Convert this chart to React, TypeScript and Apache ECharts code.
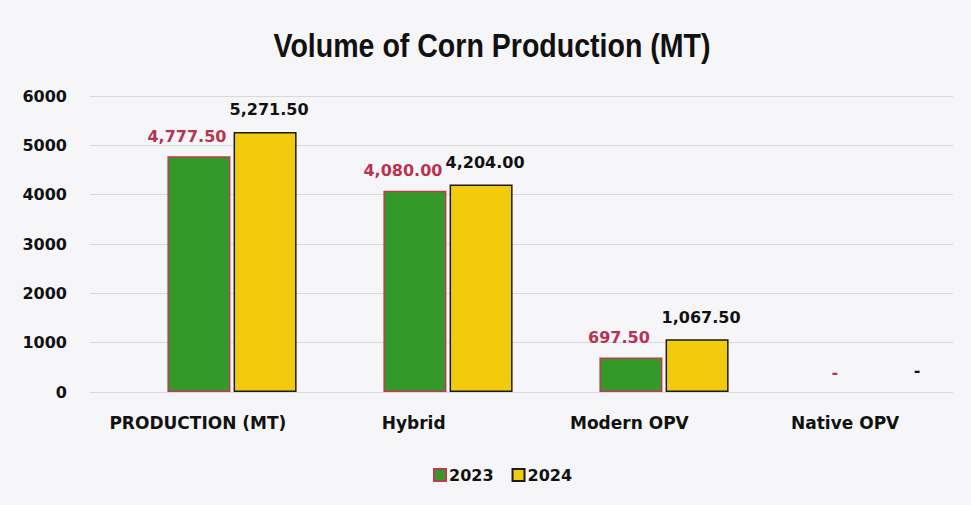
import React, { useEffect, useRef } from "react";
import * as echarts from "echarts";

const categories = ["PRODUCTION (MT)", "Hybrid", "Modern OPV", "Native OPV"];
const values2023 = [4777.5, 4080.0, 697.5, 0];
const values2024 = [5271.5, 4204.0, 1067.5, 0];
const yTicks = { min: 0, max: 6000, interval: 1000 };
const seriesNames = ["2023", "2024"];
const titleText = "Volume of Corn Production (MT)";

const numFont = "'DejaVu Sans', sans-serif";

function fmt(v: number): string {
  if (v === 0) return "-";
  return v.toLocaleString("en-US", { minimumFractionDigits: 2, maximumFractionDigits: 2 });
}

function toData(values: number[]) {
  return values.map((v) => (v === 0 ? { value: v, itemStyle: { borderWidth: 0 } } : v));
}

export default function App() {
  const ref = useRef<HTMLDivElement>(null);
  useEffect(() => {
    document.body.style.margin = "0";
    if (!ref.current) return;
    const chart = echarts.init(ref.current, null, { renderer: "svg" });
    chart.setOption({
      animation: false,
      backgroundColor: "#f6f6f8",
      graphic: [
        {
          type: "text",
          x: 492,
          y: 46,
          scaleX: 0.84,
          style: {
            text: titleText,
            font: "bold 34px 'Liberation Sans', Arial, sans-serif",
            textAlign: "center",
            textVerticalAlign: "middle",
            fill: "#111",
          },
        },
      ],
      legend: {
        data: seriesNames,
        left: 428,
        top: 462,
        itemWidth: 12,
        itemHeight: 12,
        itemGap: 18,
        icon: "rect",
        textStyle: { fontFamily: numFont, fontWeight: "bold", fontSize: 16, color: "#111", padding: [0, 0, 0, -2] },
      },
      grid: [
        { left: 90, right: 18, top: 96, bottom: 113 },
        { left: 232, right: 91, top: 96, bottom: 113 },
      ],
      xAxis: [
        {
          type: "category",
          gridIndex: 0,
          data: categories,
          axisLine: { show: false },
          axisTick: { show: false },
          axisLabel: {
            margin: 22,
            fontFamily: numFont,
            fontWeight: "bold",
            fontSize: 17,
            color: "#111",
            interval: 0,
          },
        },
        {
          type: "category",
          gridIndex: 1,
          data: categories,
          boundaryGap: false,
          axisLine: { show: false },
          axisTick: { show: false },
          axisLabel: { show: false },
        },
      ],
      yAxis: [
        {
          type: "value",
          gridIndex: 0,
          ...yTicks,
          axisLine: { show: false },
          axisTick: { show: false },
          splitLine: { lineStyle: { color: "#d9d9db", width: 1 } },
          axisLabel: {
            margin: 23,
            fontFamily: numFont,
            fontWeight: "bold",
            fontSize: 16,
            color: "#111",
            formatter: (v: number) => String(v),
          },
        },
        {
          type: "value",
          gridIndex: 1,
          ...yTicks,
          show: false,
          splitLine: { show: false },
        },
      ],
      series: [
        {
          name: seriesNames[0],
          type: "bar",
          xAxisIndex: 1,
          yAxisIndex: 1,
          clip: false,
          data: toData(values2023),
          barWidth: 63,
          barGap: "5%",
          itemStyle: { color: "#339a29", borderColor: "#c23a52", borderWidth: 1.5 },
          label: {
            show: true,
            position: "top",
            distance: 12,
            offset: [-12, 0],
            formatter: (p: any) => fmt(p.value),
            fontFamily: numFont,
            fontWeight: "bold",
            fontSize: 16,
            color: "#b83352",
          },
        },
        {
          name: seriesNames[1],
          type: "bar",
          xAxisIndex: 1,
          yAxisIndex: 1,
          clip: false,
          data: toData(values2024),
          barWidth: 63,
          barGap: "5%",
          itemStyle: { color: "#f2cc0c", borderColor: "#1a1a1a", borderWidth: 1.5 },
          label: {
            show: true,
            position: "top",
            distance: 14,
            offset: [4, 0],
            formatter: (p: any) => fmt(p.value),
            fontFamily: numFont,
            fontWeight: "bold",
            fontSize: 16,
            color: "#111",
          },
        },
      ],
    });
    return () => chart.dispose();
  }, []);
  return <div ref={ref} style={{ width: 971, height: 505 }} />;
}
